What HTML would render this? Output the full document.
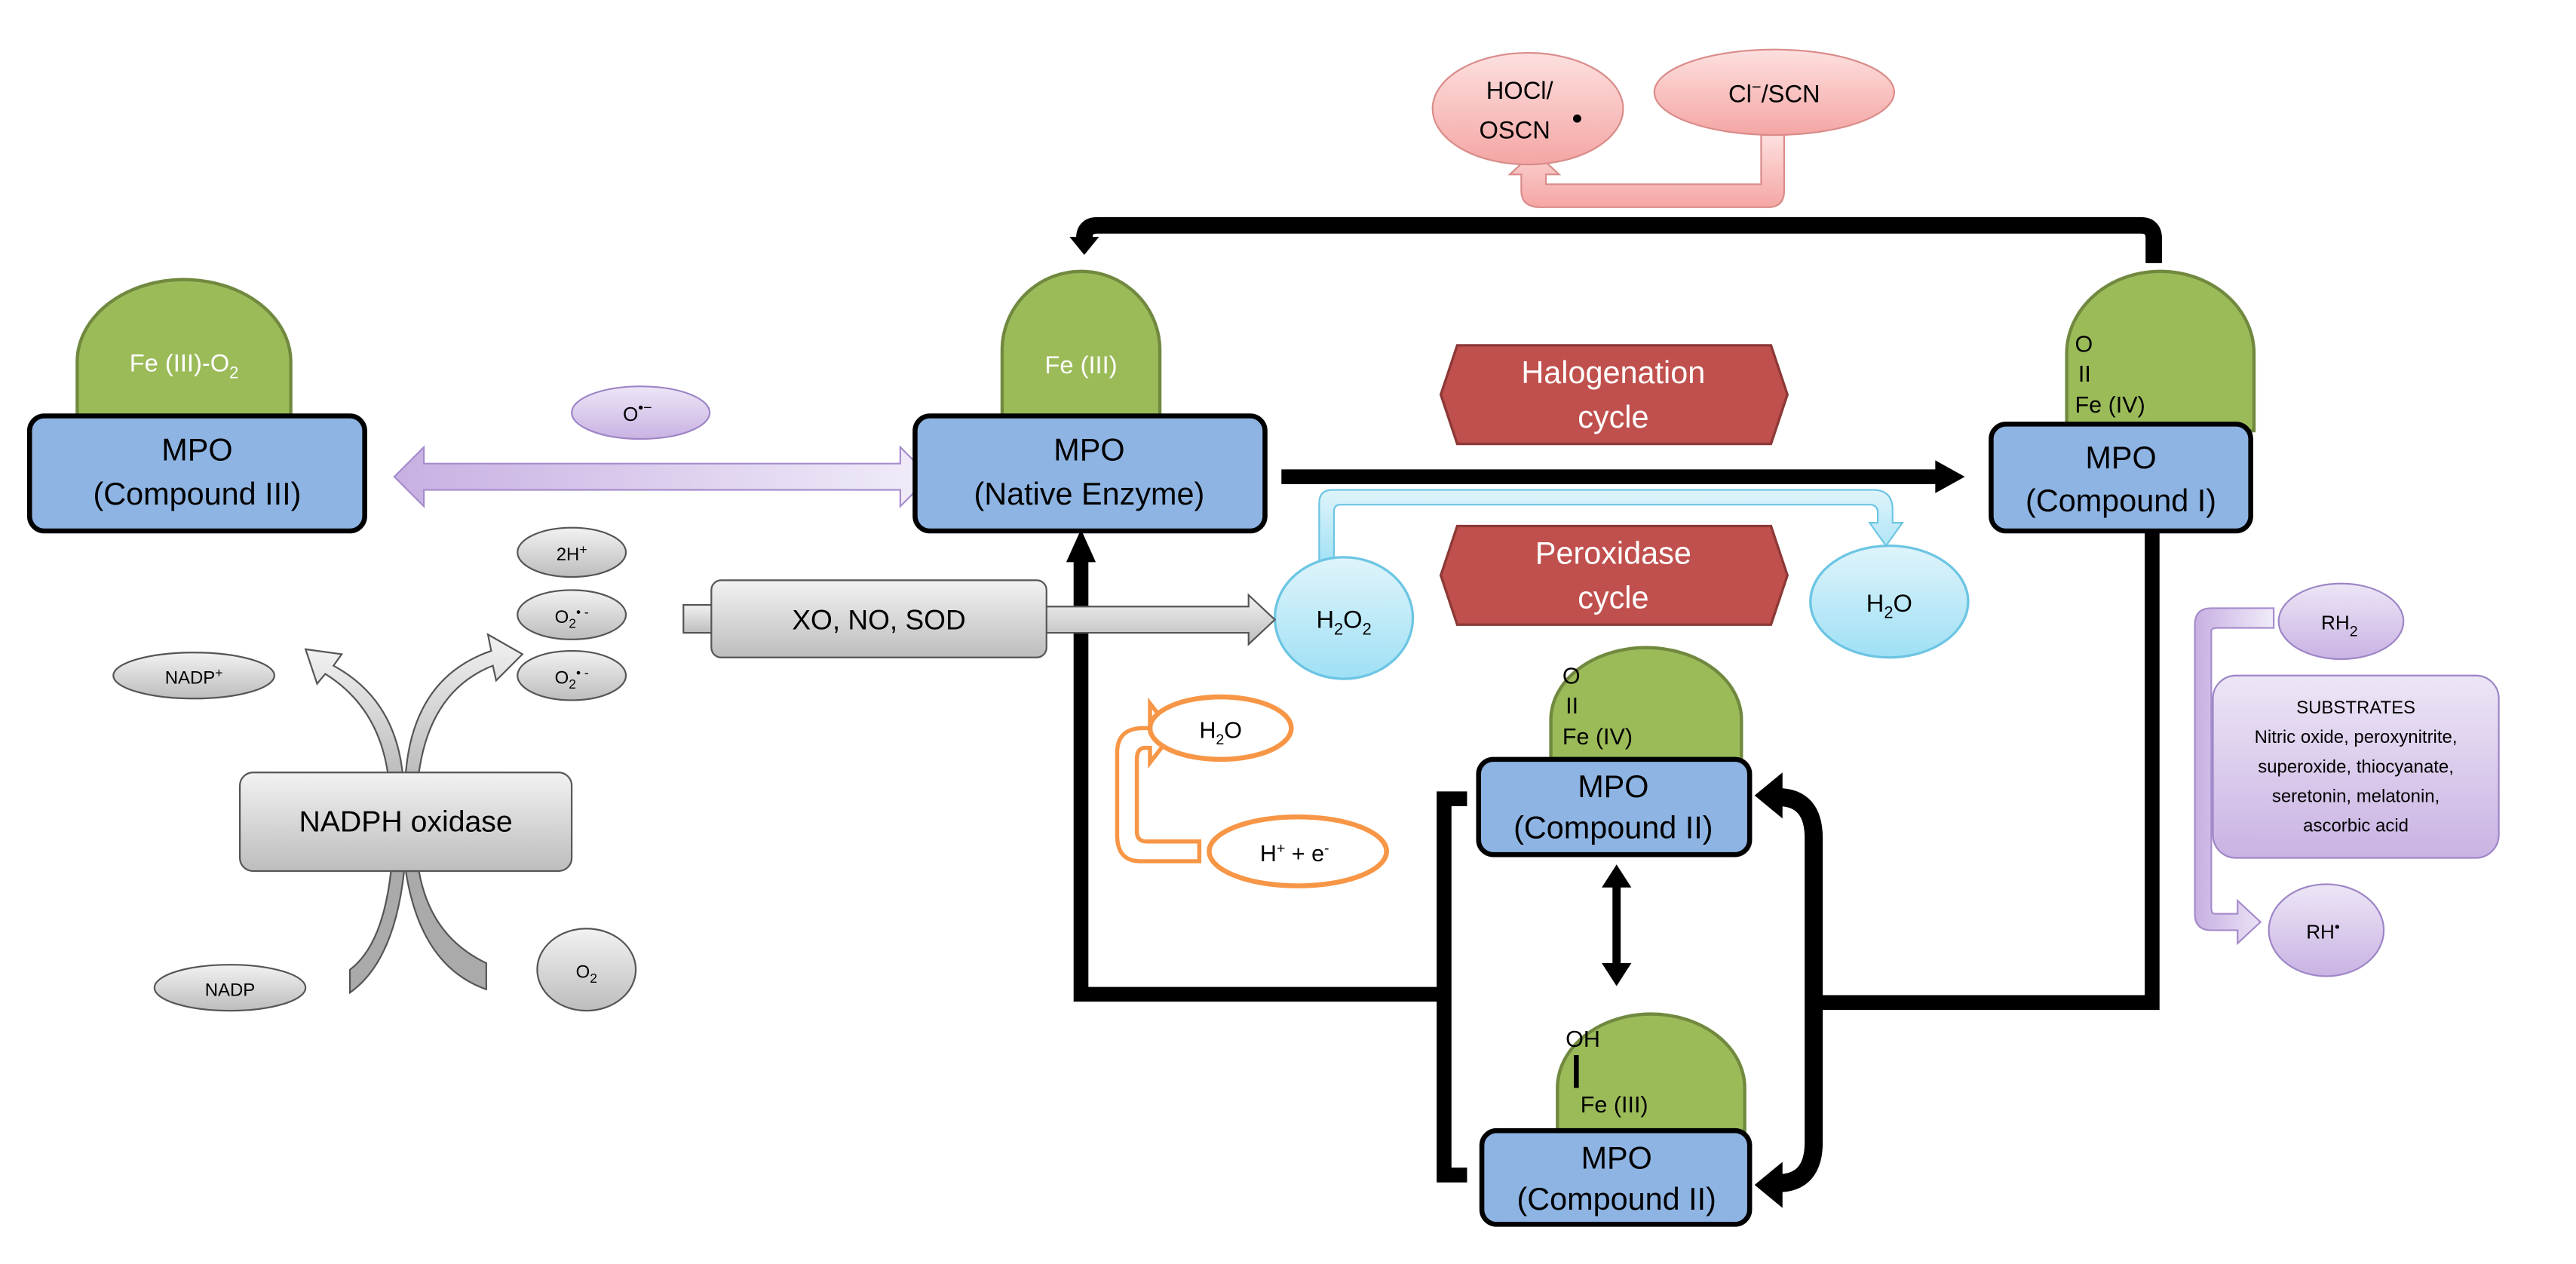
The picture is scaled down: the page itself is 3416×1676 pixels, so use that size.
<!DOCTYPE html>
<html><head><meta charset="utf-8"><style>
html,body{margin:0;padding:0;background:#fff}
svg{display:block}
text{font-family:"Liberation Sans",sans-serif}
</style></head><body>
<svg width="3416" height="1676" viewBox="0 0 1568 769" xmlns="http://www.w3.org/2000/svg">
<defs>
<linearGradient id="gry" x1="0" y1="0" x2="0" y2="1"><stop offset="0" stop-color="#f2f2f2"/><stop offset="1" stop-color="#bdbdbd"/></linearGradient>
<linearGradient id="pnk" x1="0" y1="0" x2="0" y2="1"><stop offset="0" stop-color="#fde0df"/><stop offset="1" stop-color="#f4a6a4"/></linearGradient>
<linearGradient id="blu" x1="0" y1="0" x2="0" y2="1"><stop offset="0" stop-color="#dff4fb"/><stop offset="1" stop-color="#9fe0f5"/></linearGradient>
<linearGradient id="pur" x1="0" y1="0" x2="0" y2="1"><stop offset="0" stop-color="#ede6f6"/><stop offset="1" stop-color="#c9b3e3"/></linearGradient>
<linearGradient id="purh" x1="0" y1="0" x2="1" y2="0"><stop offset="0" stop-color="#c7b0e2"/><stop offset="1" stop-color="#f1ecf9"/></linearGradient>
</defs>

<!-- top black arrow -->
<path d="M1311,160 V145 Q1311,137 1303,137 H668 Q660,137 660,145 V146" fill="none" stroke="#000" stroke-width="10"/>
<polygon points="651,144 669,144 660,155" fill="#000"/>

<!-- pink -->
<path d="M1072,82 H1086 V116 Q1086,126 1076,126 H938 Q926,126 926,116 V106 H919 L934,92 L949,106 H941 V112 H1072 Z" fill="url(#pnk)" stroke="#d98c8a" stroke-width="1"/>
<ellipse cx="930" cy="66" rx="58" ry="34" fill="url(#pnk)" stroke="#d98c8a"/>
<text x="925" y="60" font-size="15" text-anchor="middle">HOCl/</text>
<text x="922" y="84" font-size="15" text-anchor="middle">OSCN</text>
<circle cx="960" cy="72" r="2.5" fill="#000"/>
<ellipse cx="1080" cy="56" rx="73" ry="26" fill="url(#pnk)" stroke="#d98c8a"/>
<text x="1080" y="62" font-size="15" text-anchor="middle">Cl<tspan dy="-6" font-size="10">−</tspan><tspan dy="6">/SCN</tspan></text>

<!-- Compound III -->
<path d="M47,255 V220 A65,50 0 0 1 177,220 V255 Z" fill="#9bbb59" stroke="#71893f" stroke-width="2"/>
<text x="112" y="226" font-size="15" fill="#fff" text-anchor="middle">Fe (III)-O<tspan dy="4" font-size="10">2</tspan></text>
<rect x="18" y="253" width="204" height="70" rx="9" fill="#8eb4e3" stroke="#000" stroke-width="3"/>
<text x="120" y="280" font-size="19" text-anchor="middle">MPO</text>
<text x="120" y="307" font-size="19" text-anchor="middle">(Compound III)</text>

<!-- O radical + double arrow -->
<ellipse cx="390" cy="251" rx="42" ry="16" fill="url(#pur)" stroke="#9d85c6"/>
<text x="388" y="256" font-size="12" text-anchor="middle">O<tspan dy="-5" font-size="9">•−</tspan></text>
<polygon points="240,290 258,272 258,282 548,282 548,272 566,290 548,308 548,298 258,298 258,308" fill="url(#purh)" stroke="#a58ccc"/>

<!-- Native enzyme -->
<path d="M610,255 V213 A48,48 0 0 1 706,213 V255 Z" fill="#9bbb59" stroke="#71893f" stroke-width="2"/>
<text x="658" y="227" font-size="15" fill="#fff" text-anchor="middle">Fe (III)</text>
<rect x="557" y="253" width="213" height="70" rx="9" fill="#8eb4e3" stroke="#000" stroke-width="3"/>
<text x="663" y="280" font-size="19" text-anchor="middle">MPO</text>
<text x="663" y="307" font-size="19" text-anchor="middle">(Native Enzyme)</text>

<!-- halogenation arrow -->
<line x1="780" y1="290" x2="1180" y2="290" stroke="#000" stroke-width="9"/>
<polygon points="1178,280 1196,290 1178,300" fill="#000"/>

<!-- hexagons -->
<polygon points="887,210 1078,210 1088,240 1078,270 887,270 877,240" fill="#c0504d" stroke="#8c3836" stroke-width="1.5"/>
<text x="982" y="233" font-size="19" fill="#fff" text-anchor="middle">Halogenation</text>
<text x="982" y="260" font-size="19" fill="#fff" text-anchor="middle">cycle</text>
<polygon points="887,320 1078,320 1088,350 1078,380 887,380 877,350" fill="#c0504d" stroke="#8c3836" stroke-width="1.5"/>
<text x="982" y="343" font-size="19" fill="#fff" text-anchor="middle">Peroxidase</text>
<text x="982" y="370" font-size="19" fill="#fff" text-anchor="middle">cycle</text>

<!-- blue bracket arrow -->
<path d="M803,345 V306 Q803,298 811,298 H1140 Q1152,298 1152,310 V318 H1158 L1148,332 L1138,318 H1143 V312 Q1143,307 1138,307 H816 Q812,307 812,311 V345 Z" fill="url(#blu)" stroke="#6cc5e3"/>
<ellipse cx="818" cy="376" rx="42" ry="37" fill="url(#blu)" stroke="#6cc5e3" stroke-width="1.5"/>
<text x="818" y="382" font-size="15" text-anchor="middle">H<tspan dy="4" font-size="10">2</tspan><tspan dy="-4">O</tspan><tspan dy="4" font-size="10">2</tspan></text>
<ellipse cx="1150" cy="366" rx="48" ry="34" fill="url(#blu)" stroke="#6cc5e3" stroke-width="1.5"/>
<text x="1150" y="372" font-size="15" text-anchor="middle">H<tspan dy="4" font-size="10">2</tspan><tspan dy="-4">O</tspan></text>

<!-- Compound I -->
<path d="M1258,262 V215 A57,50 0 0 1 1372,215 V262 Z" fill="#9bbb59" stroke="#71893f" stroke-width="2"/>
<text x="1263" y="214" font-size="14">O</text>
<text x="1265" y="232" font-size="14">II</text>
<text x="1263" y="251" font-size="14">Fe (IV)</text>
<rect x="1212" y="258" width="158" height="65" rx="9" fill="#8eb4e3" stroke="#000" stroke-width="3"/>
<text x="1291" y="285" font-size="19" text-anchor="middle">MPO</text>
<text x="1291" y="311" font-size="19" text-anchor="middle">(Compound I)</text>

<!-- right black path -->
<polyline points="1310,323 1310,610 1100,610" fill="none" stroke="#000" stroke-width="9"/>
<path d="M1082,485 Q1104,485 1104,510 V695 Q1104,720 1082,720" fill="none" stroke="#000" stroke-width="11"/>
<polygon points="1068,484 1085,470 1085,498" fill="#000"/>
<polygon points="1068,721 1085,707 1085,735" fill="#000"/>

<!-- left black path -->
<polyline points="893,486 879,486 879,715 893,715" fill="none" stroke="#000" stroke-width="9"/>
<polyline points="879,605 658,605 658,340" fill="none" stroke="#000" stroke-width="9"/>
<polygon points="649,342 658,322 667,342" fill="#000"/>

<!-- Compound II upper -->
<path d="M944,463 V438 A58,44 0 0 1 1060,438 V463 Z" fill="#9bbb59" stroke="#71893f" stroke-width="2"/>
<text x="951" y="416" font-size="14">O</text>
<text x="953" y="434" font-size="14">II</text>
<text x="951" y="453" font-size="14">Fe (IV)</text>
<rect x="900" y="462" width="165" height="58" rx="9" fill="#8eb4e3" stroke="#000" stroke-width="3"/>
<text x="982" y="485" font-size="19" text-anchor="middle">MPO</text>
<text x="982" y="510" font-size="19" text-anchor="middle">(Compound II)</text>

<!-- double vertical arrow -->
<line x1="984" y1="538" x2="984" y2="588" stroke="#000" stroke-width="5"/>
<polygon points="975,540 984,526 993,540" fill="#000"/>
<polygon points="975,586 984,600 993,586" fill="#000"/>

<!-- Compound II lower -->
<path d="M948,690 V662 A57,45 0 0 1 1062,662 V690 Z" fill="#9bbb59" stroke="#71893f" stroke-width="2"/>
<text x="953" y="637" font-size="14">OH</text>
<rect x="958" y="642" width="3" height="20" fill="#000"/>
<text x="962" y="677" font-size="14">Fe (III)</text>
<rect x="902" y="688" width="163" height="57" rx="9" fill="#8eb4e3" stroke="#000" stroke-width="3"/>
<text x="984" y="711" font-size="19" text-anchor="middle">MPO</text>
<text x="984" y="736" font-size="19" text-anchor="middle">(Compound II)</text>

<!-- XO NO SOD -->
<rect x="416" y="368" width="20" height="17" fill="url(#gry)" stroke="#555"/>
<polygon points="636,369 760,369 760,362 776,377 760,392 760,385 636,385" fill="url(#gry)" stroke="#555"/>
<rect x="433" y="353" width="204" height="47" rx="6" fill="url(#gry)" stroke="#555"/>
<text x="535" y="383" font-size="17" text-anchor="middle">XO, NO, SOD</text>

<!-- small gray ellipses -->
<ellipse cx="348" cy="336" rx="33" ry="15" fill="url(#gry)" stroke="#555"/>
<text x="348" y="341" font-size="11" text-anchor="middle">2H<tspan dy="-4" font-size="8">+</tspan></text>
<ellipse cx="348" cy="374" rx="33" ry="15" fill="url(#gry)" stroke="#555"/>
<text x="348" y="379" font-size="11" text-anchor="middle">O<tspan dy="3" font-size="8">2</tspan><tspan dy="-7" font-size="8">• -</tspan></text>
<ellipse cx="348" cy="411" rx="33" ry="15" fill="url(#gry)" stroke="#555"/>
<text x="348" y="416" font-size="11" text-anchor="middle">O<tspan dy="3" font-size="8">2</tspan><tspan dy="-7" font-size="8">• -</tspan></text>
<ellipse cx="118" cy="411" rx="49" ry="14" fill="url(#gry)" stroke="#555"/>
<text x="118" y="416" font-size="11" text-anchor="middle">NADP<tspan dy="-4" font-size="8">+</tspan></text>
<ellipse cx="140" cy="601" rx="46" ry="14" fill="url(#gry)" stroke="#555"/>
<text x="140" y="606" font-size="11" text-anchor="middle">NADP</text>
<ellipse cx="357" cy="590" rx="30" ry="25" fill="url(#gry)" stroke="#555"/>
<text x="357" y="595" font-size="11" text-anchor="middle">O<tspan dy="3" font-size="8">2</tspan></text>

<!-- NADPH curved arrows -->
<path d="M245,470 Q240,425 203,405 L208,398 L186,395 L193,416 L198,410 Q230,430 236,470 Z" fill="url(#gry)" stroke="#555"/>
<path d="M255,470 Q262,420 300,405 L302,414 L318,398 L297,386 L299,396 Q252,412 247,470 Z" fill="url(#gry)" stroke="#555"/>
<path d="M246,530 Q240,585 213,604 V590 Q233,575 238,530 Z" fill="#aaa" stroke="#555"/>
<path d="M255,530 Q262,570 296,586 V602 Q256,588 247,530 Z" fill="#aaa" stroke="#555"/>
<rect x="146" y="470" width="202" height="60" rx="8" fill="url(#gry)" stroke="#555"/>
<text x="247" y="506" font-size="18" text-anchor="middle">NADPH oxidase</text>

<!-- orange -->
<path d="M730,524 H694 Q680,524 680,508 V458 Q680,443 696,443 H700 V428 L714,446 L700,464 V455 H697 Q692,455 692,462 V506 Q692,512 698,512 H730 Z" fill="#fff" stroke="#f79646" stroke-width="2.5"/>
<ellipse cx="743" cy="443" rx="43" ry="19" fill="#fff" stroke="#f79646" stroke-width="3"/>
<text x="743" y="449" font-size="14" text-anchor="middle">H<tspan dy="4" font-size="9">2</tspan><tspan dy="-4">O</tspan></text>
<ellipse cx="790" cy="518" rx="54" ry="21" fill="#fff" stroke="#f79646" stroke-width="3"/>
<text x="788" y="524" font-size="14" text-anchor="middle">H<tspan dy="-5" font-size="9">+</tspan><tspan dy="5"> + e</tspan><tspan dy="-5" font-size="9">-</tspan></text>

<!-- purple substrates -->
<path d="M1384,370 H1346 Q1336,370 1336,380 V556 Q1336,566 1346,566 H1362 V574 L1376,561 L1362,548 V556 H1348 Q1346,556 1346,552 V384 Q1346,382 1350,382 H1384 Z" fill="url(#purh)" stroke="#a58ccc"/>
<ellipse cx="1425" cy="378" rx="38" ry="23" fill="url(#pur)" stroke="#9d85c6"/>
<text x="1424" y="383" font-size="12" text-anchor="middle">RH<tspan dy="4" font-size="9">2</tspan></text>
<rect x="1347" y="411" width="174" height="111" rx="14" fill="url(#pur)" stroke="#9d85c6"/>
<text x="1434" y="434" font-size="11" text-anchor="middle">SUBSTRATES</text>
<text x="1434" y="452" font-size="11" text-anchor="middle">Nitric oxide, peroxynitrite,</text>
<text x="1434" y="470" font-size="11" text-anchor="middle">superoxide, thiocyanate,</text>
<text x="1434" y="488" font-size="11" text-anchor="middle">seretonin, melatonin,</text>
<text x="1434" y="506" font-size="11" text-anchor="middle">ascorbic acid</text>
<ellipse cx="1416" cy="566" rx="35" ry="28" fill="url(#pur)" stroke="#9d85c6"/>
<text x="1414" y="571" font-size="12" text-anchor="middle">RH<tspan dy="-4" font-size="9">•</tspan></text>
</svg>
</body></html>
